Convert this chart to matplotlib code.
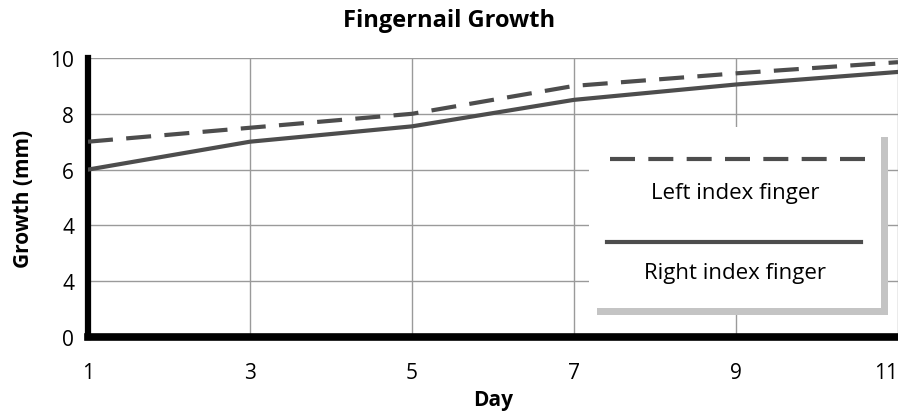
import matplotlib.pyplot as plt
from matplotlib.patches import Rectangle
from matplotlib.lines import Line2D

plt.rcParams['font.family'] = ['Open Sans', 'DejaVu Sans']

# data
days = [1, 3, 5, 7, 9, 11]
left_index = [7.0, 7.5, 8.0, 9.0, 9.45, 9.85]
right_index = [6.0, 7.0, 7.55, 8.5, 9.05, 9.5]
y_ticks = [0, 2, 4, 6, 8, 10]
y_tick_labels = ['0', '4', '4', '6', '8', '10']  # as printed in the original

W, H = 898, 414
fig = plt.figure(figsize=(W / 100, H / 100), dpi=100)
ax = fig.add_axes([88 / W, (H - 338) / H, 1 - 88 / W, (338 - 59) / H])

line_col = '#4d4d4d'
ax.plot(days, left_index, color=line_col, lw=3.0, dashes=(6, 3.2), solid_capstyle='butt', zorder=3)
ax.plot(days, right_index, color=line_col, lw=3.0, zorder=3)

ax.set_xlim(1, 11)
ax.set_ylim(0, 10)
ax.set_xticks(days)
ax.set_yticks(y_ticks)
ax.set_yticklabels(y_tick_labels)
ax.grid(True, color='#9a9a9a', lw=1.0)
ax.set_axisbelow(True)
ax.tick_params(length=0, labelsize=15, pad=10)
ax.tick_params(axis='x', pad=18)
# last x label would be cut at the figure edge
last = ax.get_xticklabels()[-1]
last.set_horizontalalignment('right')

for s in ['top', 'right']:
    ax.spines[s].set_visible(False)
ax.spines['left'].set_linewidth(4.5)
ax.spines['bottom'].set_linewidth(5.5)
for s in ['left', 'bottom']:
    ax.spines[s].set_color('black')

ax.set_xlabel('Day', fontsize=15, fontweight='bold', labelpad=4)
ax.set_ylabel('Growth (mm)', fontsize=15, fontweight='bold', labelpad=12)
fig.text(0.5, 1 - 21 / H, 'Fingernail Growth', ha='center', va='center',
         fontsize=17, fontweight='bold')


# legend box drawn in pixel coords of the figure
def px(x, y):
    return x / W, 1 - y / H


x0, y0 = px(597, 316)
x1, y1 = px(888, 138)
fig.patches.append(Rectangle((x0, y0), x1 - x0, y1 - y0, transform=fig.transFigure,
                             facecolor='#c4c4c4', edgecolor='none', zorder=5))
x0, y0 = px(589, 309)
x1, y1 = px(881, 128)
fig.patches.append(Rectangle((x0, y0), x1 - x0, y1 - y0, transform=fig.transFigure,
                             facecolor='white', edgecolor='none', zorder=6))

xa, ya = px(610, 160)
xb, _ = px(865, 160)
fig.lines.append(Line2D([xa, xb], [ya, ya], transform=fig.transFigure, color=line_col,
                        lw=3.0, dashes=(6, 3.2), zorder=7))
xa, ya = px(607, 243)
xb, _ = px(861, 243)
fig.lines.append(Line2D([xa, xb], [ya, ya], transform=fig.transFigure, color=line_col,
                        lw=3.0, zorder=7))

tx, ty = px(735, 193)
fig.text(tx, ty, 'Left index finger', ha='center', va='center', fontsize=16, zorder=8)
tx, ty = px(735, 273)
fig.text(tx, ty, 'Right index finger', ha='center', va='center', fontsize=16, zorder=8)

fig.savefig('out.png', dpi=100)
